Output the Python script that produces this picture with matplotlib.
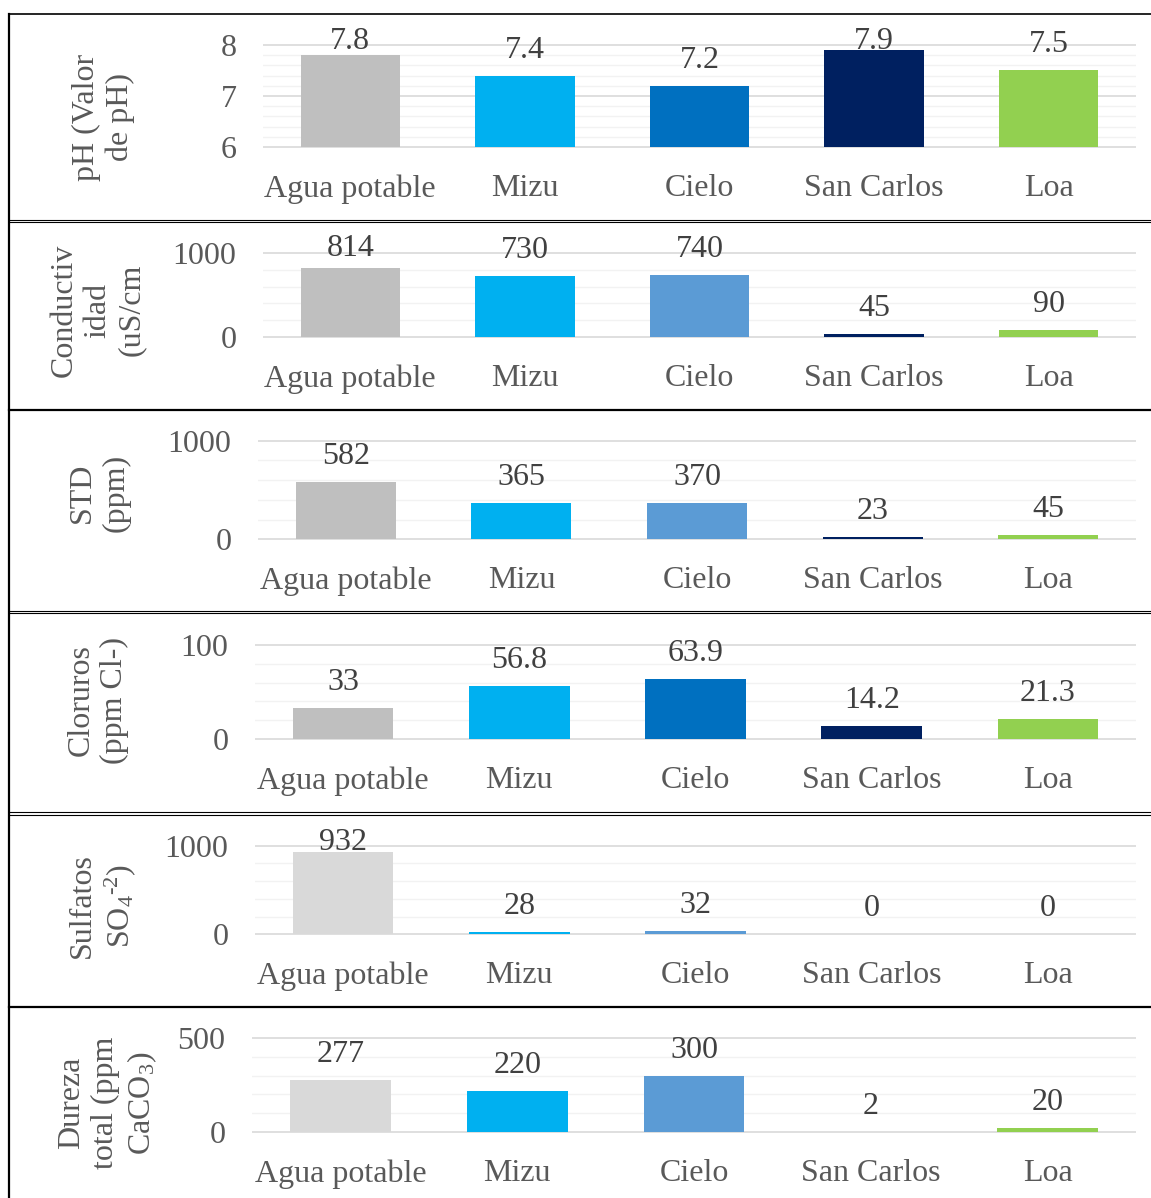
import matplotlib.pyplot as plt
from matplotlib.lines import Line2D
import numpy as np

plt.rcParams['font.family'] = ['Liberation Serif', 'DejaVu Serif']
plt.rcParams['mathtext.fontset'] = 'custom'
plt.rcParams['mathtext.rm'] = 'Liberation Serif'
plt.rcParams['mathtext.it'] = 'Liberation Serif:italic'

Marcas = ['Agua potable', 'Mizu', 'Cielo', 'San Carlos', 'Loa']

ph = [7.8, 7.4, 7.2, 7.9, 7.5]
conductividad = [814, 730, 740, 45, 90]
std = [582, 365, 370, 23, 45]
cloruros = [33, 56.8, 63.9, 14.2, 21.3]
sulfatos = [932, 28, 32, 0, 0]
dureza = [277, 220, 300, 2, 20]

datos = [ph, conductividad, std, cloruros, sulfatos, dureza]
titulos = ['pH (Valor\nde pH)', 'Conductiv\nidad\n(uS/cm', 'STD\n(ppm)',
           'Cloruros\n(ppm Cl-)', r'Sulfatos' + '\n' + r'SO$_4$$^{\text{-2}}$)',
           'Dureza\ntotal (ppm\nCaCO$_3$)']
limites = [(6, 8), (0, 1000), (0, 1000), (0, 100), (0, 1000), (0, 500)]
mayores = [1, 1000, 1000, 100, 1000, 500]
menores = [0.2, 200, 200, 20, 200, 100]

colores = [
    ['#BFBFBF', '#00B0F0', '#0070C0', '#002060', '#92D050'],
    ['#BFBFBF', '#00B0F0', '#5B9BD5', '#002060', '#92D050'],
    ['#BFBFBF', '#00B0F0', '#5B9BD5', '#002060', '#92D050'],
    ['#BFBFBF', '#00B0F0', '#0070C0', '#002060', '#92D050'],
    ['#D9D9D9', '#00B0F0', '#5B9BD5', '#002060', '#92D050'],
    ['#D9D9D9', '#00B0F0', '#5B9BD5', '#002060', '#92D050'],
]

W, H = 1151, 1198
# plot areas in pixels: left, top, right, bottom
cajas = [(263, 44, 1136, 148), (263, 252, 1136, 338), (258, 440, 1136, 540),
         (255, 644, 1136, 740), (255, 845, 1136, 935), (252, 1037, 1136, 1133)]
# centre of the y-axis titles in pixels
centros = [(103, 117), (98, 310), (99, 493), (98, 700), (103, 906), (108, 1103)]

fs = 23
fig = plt.figure(figsize=(W / 100, H / 100), dpi=100)

x = np.arange(len(Marcas))
for k in range(6):
    l, t, r, b = cajas[k]
    ax = fig.add_axes([l / W, 1 - b / H, (r - l) / W, (b - t) / H])
    ymin, ymax = limites[k]
    vals = np.array(datos[k], dtype=float)
    ax.bar(x, vals - ymin, bottom=ymin, width=0.57, color=colores[k], zorder=3)
    eps = (ymax - ymin) * 0.008
    ax.set_ylim(ymin - eps, ymax + eps)
    ax.set_xlim(-0.5, 4.5)
    ax.set_yticks(np.arange(ymin, ymax + mayores[k] / 2, mayores[k]))
    ax.set_yticks(np.arange(ymin, ymax + menores[k] / 2, menores[k]), minor=True)
    ax.grid(which='minor', axis='y', color='#F2F2F2', lw=1.0, zorder=0)
    ax.grid(which='major', axis='y', color='#D9D9D9', lw=1.2, zorder=1)
    ax.set_axisbelow(True)
    ax.set_xticks(x)
    ax.set_xticklabels(Marcas)
    ax.tick_params(axis='both', which='both', length=0, labelsize=fs,
                   labelcolor='#595959')
    ax.tick_params(axis='x', pad=19)
    ax.tick_params(axis='y', pad=19)
    for s in ax.spines.values():
        s.set_visible(False)

    ppd = (b - t) / (ymax - ymin)
    for i, v in enumerate(datos[k]):
        off = min(18, (ymax - v) * ppd - 4)
        ax.annotate(f'{v:g}', (i, v), xytext=(0, off), textcoords='offset pixels',
                    ha='center', va='baseline', fontsize=fs, color='#404040',
                    annotation_clip=False)

    cx, cy = centros[k]
    fig.text(cx / W, 1 - cy / H, titulos[k], rotation=90, ha='center',
             va='center', fontsize=fs, color='#595959', multialignment='center')


def linea_h(y, lw):
    fig.add_artist(Line2D([9 / W, 1], [1 - y / H, 1 - y / H], color='black',
                          lw=lw, transform=fig.transFigure))


linea_h(14, 1.2)
for y in [219.5, 222, 611, 613.5, 812, 814.5]:
    linea_h(y, 0.8)
for y in [410, 1006.5]:
    linea_h(y, 1.6)
fig.add_artist(Line2D([9 / W, 9 / W], [1 - 13.5 / H, 0], color='black', lw=1.6,
                      transform=fig.transFigure))

plt.savefig('out.png', dpi=100)
